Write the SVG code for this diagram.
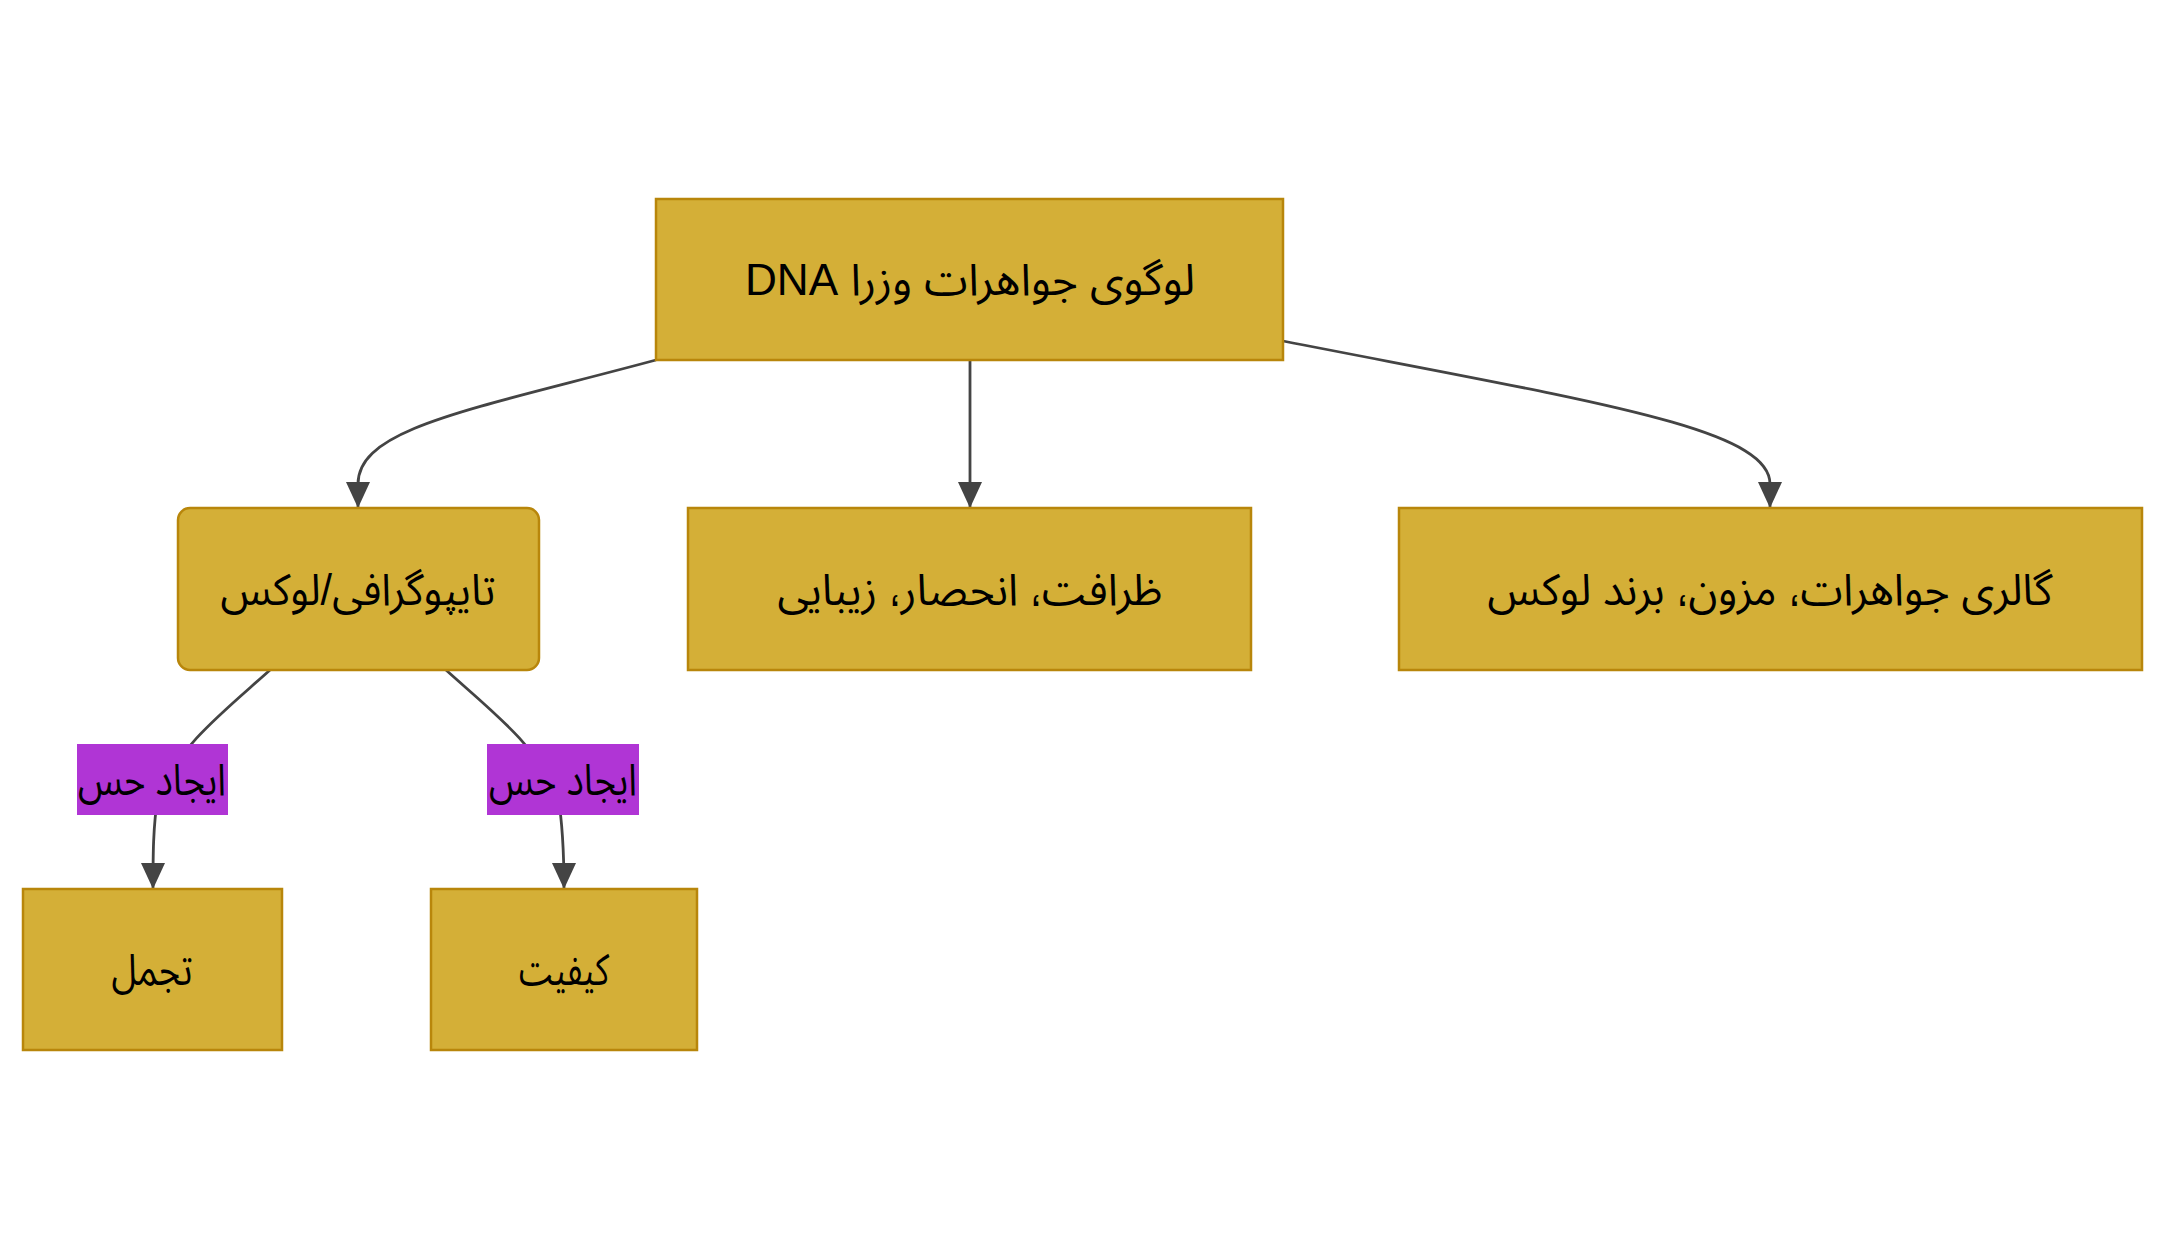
<svg xmlns="http://www.w3.org/2000/svg" width="2165" height="1250" viewBox="0 0 2165 1250">
<style>
.node rect{fill:#D4AF37;stroke:#B8860B;stroke-width:2.5}
.lbl rect{fill:#B035D5;stroke:none}
text{font-family:"Liberation Sans","FreeSans","Noto Sans Arabic UI","Noto Sans Arabic","Noto Naskh Arabic",Arial,sans-serif;font-size:44px;fill:#000;text-anchor:middle;dominant-baseline:central}
.lat{font-family:"Liberation Sans",Arial,sans-serif}
.edge{fill:none;stroke:#444;stroke-width:2.8}
</style>
<defs>
<marker id="arr" viewBox="0 0 10 10" refX="10" refY="5" markerWidth="26" markerHeight="24" markerUnits="userSpaceOnUse" orient="auto" preserveAspectRatio="none">
<path d="M0,0 L10,5 L0,10 z" fill="#444"/>
</marker>
</defs>
<rect width="2165" height="1250" fill="#fff"/>
<g id="connectors">
<path class="edge" d="M656,360 C470,410 358,428 358,484 L358,508" marker-end="url(#arr)"/>
<path class="edge" d="M970,360 L970,508" marker-end="url(#arr)"/>
<path class="edge" d="M1283,341 C1595,402 1770,428 1770,484 L1770,508" marker-end="url(#arr)"/>
<path class="edge" d="M270,670 C228,708 178,746 158,796 C153,826 153,856 153,889" marker-end="url(#arr)"/>
<path class="edge" d="M446,670 C488,708 538,746 558,796 C563,826 564,856 564,889" marker-end="url(#arr)"/>
</g>
<g id="label-1" class="lbl"><rect x="77" y="744" width="151" height="71"/><text x="152" y="779" direction="rtl" textLength="148" lengthAdjust="spacingAndGlyphs">ایجاد حس</text></g>
<g id="label-2" class="lbl"><rect x="487" y="744" width="152" height="71"/><text x="563" y="779" direction="rtl" textLength="148" lengthAdjust="spacingAndGlyphs">ایجاد حس</text></g>
<g id="node-top" class="node"><rect x="656" y="199" width="627" height="161"/><text x="970" y="279" direction="rtl" textLength="450" lengthAdjust="spacingAndGlyphs">لوگوی جواهرات وزرا <tspan class="lat">DNA</tspan></text></g>
<g id="node-typo" class="node"><rect x="178" y="508" width="361" height="162" rx="12" ry="12"/><text x="358" y="589" direction="rtl" textLength="275" lengthAdjust="spacingAndGlyphs">تایپوگرافی/لوکس</text></g>
<g id="node-elegance" class="node"><rect x="688" y="508" width="563" height="162"/><text x="970" y="589" direction="rtl" textLength="385" lengthAdjust="spacingAndGlyphs">ظرافت، انحصار، زیبایی</text></g>
<g id="node-gallery" class="node"><rect x="1399" y="508" width="743" height="162"/><text x="1770" y="589" direction="rtl" textLength="565" lengthAdjust="spacingAndGlyphs">گالری جواهرات، مزون، برند لوکس</text></g>
<g id="node-tajamol" class="node"><rect x="23" y="889" width="259" height="161"/><text x="152" y="969" direction="rtl" textLength="81" lengthAdjust="spacingAndGlyphs">تجمل</text></g>
<g id="node-quality" class="node"><rect x="431" y="889" width="266" height="161"/><text x="564" y="969" direction="rtl" textLength="90" lengthAdjust="spacingAndGlyphs">کیفیت</text></g>
</svg>
